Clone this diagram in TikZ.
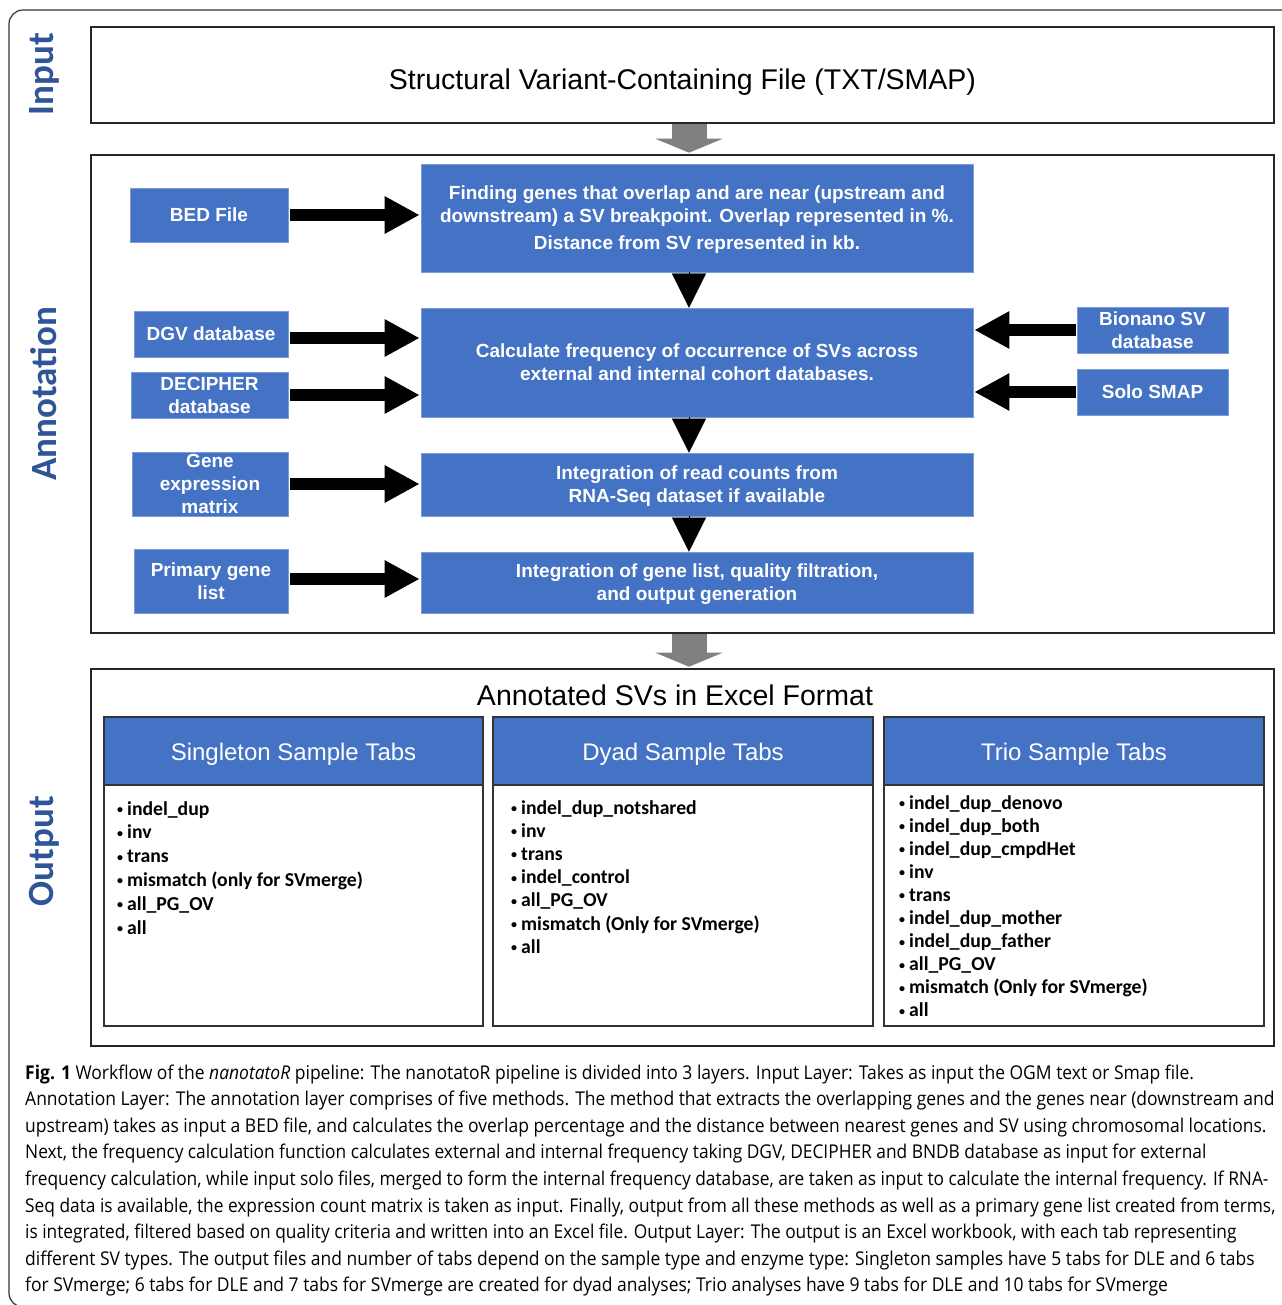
\documentclass[tikz,border=0pt]{standalone}
\usepackage{fontspec}
\setmainfont{Liberation Sans}
\newfontfamily\carl{Carlito}
\newfontfamily\capfont{Open Sans}[FakeStretch=0.92]
\newfontfamily\capfontb{Open Sans}[FakeStretch=0.912]
\usetikzlibrary{arrows.meta}
\definecolor{boxblue}{HTML}{4472C4}
\definecolor{lblblue}{HTML}{2F5597}
\definecolor{grayarr}{HTML}{808080}
\definecolor{framec}{HTML}{333333}
\newcommand{\smallbul}{{\fontsize{12}{12}\selectfont\raisebox{1.5pt}{\textbullet}}}
\tikzset{
  layerbox/.style={draw=black!85, line width=1.6pt, fill=white, inner sep=0pt},
  bluebox/.style={fill=boxblue, draw=boxblue!70!white, line width=0.6pt, inner sep=0pt,
    text=white, align=center, text depth=0pt, font=\bfseries\fontsize{19}{23}\selectfont},
  lbl/.style={rotate=90, text=lblblue, font=\carl\bfseries\fontsize{37}{40}\selectfont, inner sep=0pt},
  fatarrow/.style={line width=12pt, -{Triangle[length=35pt,width=35pt]}, shorten >=1pt},
  downtri/.style={line width=0.1pt, -{Triangle[length=34pt,width=34pt]}},
  grayarrow/.style={grayarr, line width=35pt, -{Triangle[length=14pt,width=67pt]}, shorten >=1.5pt},
  panel/.style={draw=framec, line width=1.5pt, fill=white, inner sep=0pt},
  hdr/.style={draw=framec, line width=1.5pt, fill=boxblue, inner sep=0pt, text=white,
    text height=20pt, text depth=0.8pt, font=\fontsize{24}{28}\selectfont},
  item/.style={anchor=base west, inner sep=0pt, font=\carl\bfseries\fontsize{19.7}{23}\selectfont},
  capline/.style={anchor=base west, inner sep=0pt, font=\capfont\fontsize{19}{24}\selectfont},
  caplineb/.style={anchor=base west, inner sep=0pt, font=\capfontb\fontsize{19}{24}\selectfont},
}
\begin{document}
\begin{tikzpicture}[x=1pt,y=-1pt]
\useasboundingbox (0,0) rectangle (1281,1305);
\fill[white] (0,0) rectangle (1281,1305);
% outer frame
\draw[framec, line width=1.2pt, rounded corners=14pt] (9,10) rectangle (1310,1307);
\coordinate (axis) at (689,0);

% layer labels
\node[lbl] (linput) at (44,74) {Input};
\node[lbl] (lannot) at (44,394) {Annotation};
\node[lbl] (loutput) at (44,851) {Output};

% layer boxes
\node[layerbox, minimum width=1183pt, minimum height=96pt, text height=29pt, text depth=0.4pt,
  font=\fontsize{28.5}{32}\selectfont]
  (inbox) at (682.5,75) {Structural Variant-Containing File (TXT/SMAP)};
\node[layerbox, minimum width=1183pt, minimum height=478pt] (annbox) at (682.5,394) {};
\node[layerbox, minimum width=1183pt, minimum height=377pt] (outbox) at (682.5,857.5) {};

\draw[grayarrow] (inbox.south -| axis) -- (annbox.north -| axis);
\draw[grayarrow] (annbox.south -| axis) -- (outbox.north -| axis);

% annotation boxes
\node[bluebox, minimum width=158pt, minimum height=54pt] (bed) at (209,215) {BED File};
\node[bluebox, minimum width=552pt, minimum height=108pt] (find) at (697,218)
  {Finding genes that overlap and are near (upstream and\\
   downstream) a SV breakpoint. Overlap represented in \%.\\[4pt]
   Distance from SV represented in kb.};
\node[bluebox, minimum width=154pt, minimum height=46pt] (dgv) at (211,334) {DGV database};
\node[bluebox, minimum width=157pt, minimum height=46pt] (dec) at (209.5,395) {DECIPHER\\database};
\node[bluebox, minimum width=552pt, minimum height=109pt] (calc) at (697,362.5)
  {Calculate frequency of occurrence of SVs across\\external and internal cohort databases.};
\node[bluebox, minimum width=151pt, minimum height=46pt] (bion) at (1152.5,330) {Bionano SV\\database};
\node[bluebox, minimum width=151pt, minimum height=46pt] (solo) at (1152.5,392) {Solo SMAP};
\node[bluebox, minimum width=156pt, minimum height=64pt] (gene) at (210,484) {Gene\\expression\\matrix};
\node[bluebox, minimum width=552pt, minimum height=63pt, text depth=-2pt] (rna) at (697,484.5)
  {Integration of read counts from\\RNA-Seq dataset if available};
\node[bluebox, minimum width=154pt, minimum height=64pt] (prim) at (211,581) {Primary gene\\list};
\node[bluebox, minimum width=552pt, minimum height=61pt, text depth=-2pt] (integ) at (697,582.5)
  {Integration of gene list, quality filtration,\\and output generation};

% connectors
\draw[fatarrow, shorten <=2pt] (bed.east) -- (bed.east -| find.west);
\draw[fatarrow, shorten <=2pt] ([yshift=-4pt]dgv.east) -- ([yshift=-4pt]dgv.east -| calc.west);
\draw[fatarrow, shorten <=2pt] (dec.east) -- (dec.east -| calc.west);
\draw[fatarrow, shorten <=2pt] (gene.east) -- (gene.east -| rna.west);
\draw[fatarrow, shorten <=2pt] ([yshift=2pt]prim.east) -- ([yshift=2pt]prim.east -| integ.west);
\draw[fatarrow, shorten <=1pt] (bion.west) -- (bion.west -| calc.east);
\draw[fatarrow, shorten <=1pt] (solo.west) -- (solo.west -| calc.east);
\draw[downtri] (find.south -| axis) -- (calc.north -| axis);
\draw[downtri] (calc.south -| axis) -- (rna.north -| axis);
\draw[downtri] (rna.south -| axis) -- (integ.north -| axis);

% output
\node[inner sep=0pt, font=\fontsize{28.5}{32}\selectfont] (otitle) at (675,695) {Annotated SVs in Excel Format};
\node[panel, minimum width=379pt, minimum height=309pt] (sing) at (293.5,871.5) {};
\node[panel, minimum width=380pt, minimum height=309pt] (dyad) at (683,871.5) {};
\node[panel, minimum width=380pt, minimum height=309pt] (trio) at (1074,871.5) {};
\node[hdr, minimum width=379pt, minimum height=68pt, anchor=north] (singh) at (sing.north) {Singleton Sample Tabs};
\node[hdr, minimum width=380pt, minimum height=68pt, anchor=north] (dyadh) at (dyad.north) {Dyad Sample Tabs};
\node[hdr, minimum width=380pt, minimum height=68pt, anchor=north] (trioh) at (trio.north) {Trio Sample Tabs};

\foreach \t [count=\i] in {indel\_dup, inv, trans, mismatch (only for SVmerge), all\_PG\_OV, all}
  \node[item] (s\i) at (117,{815+23.8*(\i-1)}) {\smallbul\hspace{4pt}\t};
\foreach \t [count=\i] in {indel\_dup\_notshared, inv, trans, indel\_control, all\_PG\_OV, mismatch (Only for SVmerge), all}
  \node[item] (d\i) at (511,{814+23.2*(\i-1)}) {\smallbul\hspace{4pt}\t};
\foreach \t [count=\i] in {indel\_dup\_denovo, indel\_dup\_both, indel\_dup\_cmpdHet, inv, trans, indel\_dup\_mother, indel\_dup\_father, all\_PG\_OV, mismatch (Only for SVmerge), all}
  \node[item] (t\i) at (899,{809+23.1*(\i-1)}) {\smallbul\hspace{4pt}\t};

% caption
\node[capline] (cap1) at (25,1079) {\textbf{Fig. 1} Workflow of the \textit{nanotatoR} pipeline: The nanotatoR pipeline is divided into 3 layers. Input Layer: Takes as input the OGM text or Smap file.};
\node[capline] (cap2) at (25,1105.6) {Annotation Layer: The annotation layer comprises of five methods. The method that extracts the overlapping genes and the genes near (downstream and};
\node[capline] (cap3) at (25,1132.2) {upstream) takes as input a BED file, and calculates the overlap percentage and the distance between nearest genes and SV using chromosomal locations.};
\node[caplineb] (cap4) at (25,1158.8) {Next, the frequency calculation function calculates external and internal frequency taking DGV, DECIPHER and BNDB database as input for external};
\node[caplineb] (cap5) at (25,1185.4) {frequency calculation, while input solo files, merged to form the internal frequency database, are taken as input to calculate the internal frequency. If RNA-};
\node[caplineb] (cap6) at (25,1212) {Seq data is available, the expression count matrix is taken as input. Finally, output from all these methods as well as a primary gene list created from terms,};
\node[caplineb] (cap7) at (25,1238.6) {is integrated, filtered based on quality criteria and written into an Excel file. Output Layer: The output is an Excel workbook, with each tab representing};
\node[capline] (cap8) at (25,1265.2) {different SV types. The output files and number of tabs depend on the sample type and enzyme type: Singleton samples have 5 tabs for DLE and 6 tabs};
\node[capline] (cap9) at (25,1291.8) {for SVmerge; 6 tabs for DLE and 7 tabs for SVmerge are created for dyad analyses; Trio analyses have 9 tabs for DLE and 10 tabs for SVmerge};
\end{tikzpicture}
\end{document}
